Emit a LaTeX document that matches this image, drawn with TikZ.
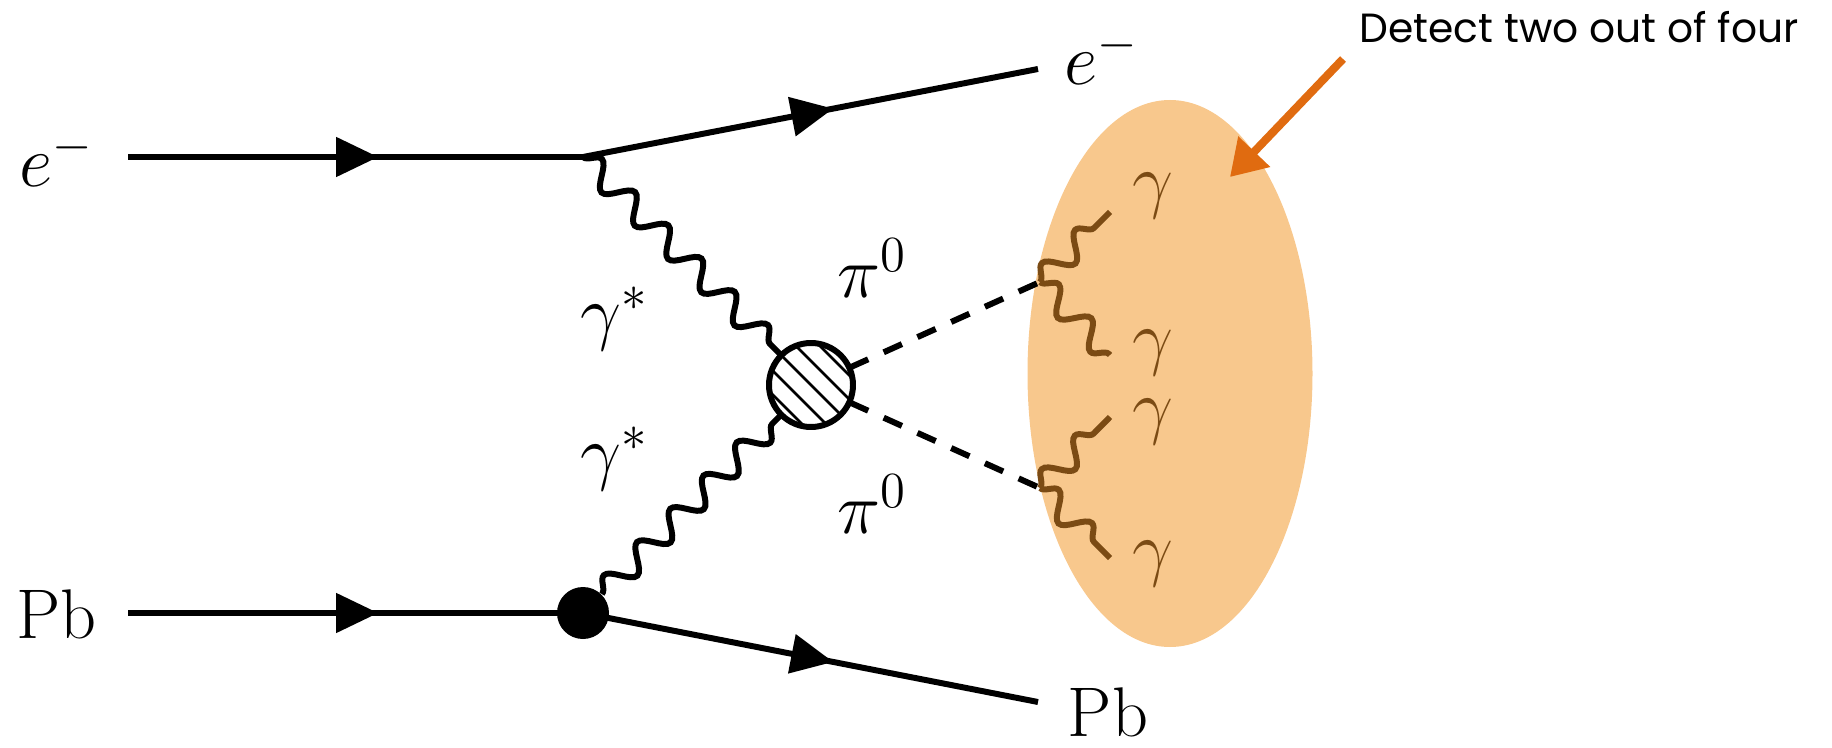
\documentclass[tikz,border=0pt]{standalone}
\usepackage{amsmath,amssymb}
\usepackage{xcolor}
\usepackage{fontspec}
\newfontfamily\notefont{Poppins}
\usepackage{tikz}
\usetikzlibrary{arrows.meta,calc,positioning,decorations.pathmorphing,decorations.markings}
\definecolor{detorange}{HTML}{F8C88D}
\definecolor{arrorange}{HTML}{E06B10}
\definecolor{phbrown}{HTML}{7B4B14}

\begin{document}
\begin{tikzpicture}[
  lbl/.style={font=\fontsize{20}{24}\selectfont,inner sep=0pt},
  fer/.style={line width=1.7pt,postaction={decorate},
    decoration={markings,mark=at position 0.55 with {\arrow{Triangle[length=12pt,width=11pt]}}}},
  pho/.style={line width=1.7pt,decorate,decoration={snake,amplitude=0.12cm,segment length=0.47cm}},
  pi0/.style={line width=1.7pt,dash pattern=on 0.2cm off 0.17cm},
  ar/.style={-{Triangle[length=10pt,width=12pt]},line width=2.3pt,arrorange}]
\useasboundingbox (0,0) rectangle (18.32,7.47);
% detector region
\fill[detorange] (11.70,3.735) ellipse[x radius=1.425,y radius=2.735];
% vertices
\coordinate (vtop) at (5.83,5.90);
\node[circle,fill,minimum size=0.52cm,inner sep=0pt] (vbot) at (5.83,1.34) {};
\node[circle,minimum size=0.84cm,inner sep=0pt] (blob) at (8.11,3.62) {};
% external legs
\node[lbl,anchor=base] (ein) at (0.57,5.60) {$e^-$};
\node[lbl,anchor=base] (pbin) at (0.565,1.09) {$\mathrm{Pb}$};
\node[lbl,anchor=base] (eout) at (11.02,6.62) {$e^-$};
\node[lbl,anchor=base] (pbout) at (11.08,0.11) {$\mathrm{Pb}$};
\coordinate (ein0) at (1.28,5.90);
\coordinate (pbin0) at (1.28,1.34);
\coordinate (eout0) at (10.38,6.78);
\coordinate (pbout0) at (10.38,0.45);
\draw[fer] (ein0) -- (vtop);
\draw[fer] (vtop) -- (eout0);
\draw[fer] (pbin0) -- (vbot.center);
\draw[fer] (vbot.center) -- (pbout0);
% virtual photons
\draw[pho] (vtop) -- (blob);
\draw[pho] (vbot) -- (blob);
\node[lbl] (gs1) at (6.15,4.28) {$\gamma^*$};
\node[lbl] (gs2) at (6.15,2.88) {$\gamma^*$};
% blob
\begin{scope}
\clip (blob.center) circle (0.42);
\fill[white] (blob.center) circle (0.42);
\foreach \d in {-0.48,-0.36,...,0.5}
  \draw[line width=0.8pt] ($(blob.center)+(\d,\d)+(-0.6,0.6)$) -- ++(1.2,-1.2);
\end{scope}
\draw[line width=1.7pt] (blob.center) circle (0.42);
% pions
\coordinate (dk1) at (10.40,4.65);
\coordinate (dk2) at (10.40,2.59);
\draw[pi0] (blob) -- (dk1);
\draw[pi0] (blob) -- (dk2);
\node[lbl] (pi1) at (8.72,4.79) {$\pi^0$};
\node[lbl] (pi2) at (8.72,2.43) {$\pi^0$};
% decay photons
\coordinate (g1) at (11.10,5.35);
\coordinate (g2) at (11.10,3.92);
\coordinate (g3) at (11.10,3.30);
\coordinate (g4) at (11.10,1.89);
\draw[pho,phbrown] (dk1) -- (g1);
\draw[pho,phbrown] (dk1) -- (g2);
\draw[pho,phbrown] (dk2) -- (g3);
\draw[pho,phbrown] (dk2) -- (g4);
\node[lbl,phbrown] (gl1) at (11.53,5.51) {$\gamma$};
\node[lbl,phbrown] (gl2) at (11.53,3.94) {$\gamma$};
\node[lbl,phbrown] (gl3) at (11.53,3.25) {$\gamma$};
\node[lbl,phbrown] (gl4) at (11.53,1.83) {$\gamma$};
% note
\node[anchor=base,inner sep=0pt,font=\notefont\fontsize{11.6}{13}\selectfont] (note) at (15.79,7.04) {Detect two out of four};
\coordinate (tail) at (13.43,6.88);
\coordinate (tip) at (12.30,5.70);
\draw[ar] (tail) -- (tip);
\end{tikzpicture}
\end{document}
